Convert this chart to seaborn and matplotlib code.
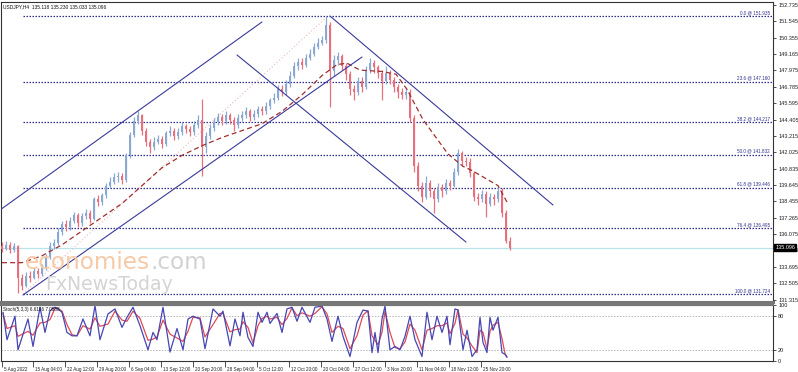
import matplotlib
matplotlib.use("Agg")
import matplotlib.pyplot as plt
import matplotlib.transforms as mtransforms
from matplotlib import font_manager
import seaborn as sns
import pandas as pd

# ---------------- data ----------------
title_text = "USDJPY,H4  135.118 135.230 135.033 135.096"
stoch_title = "Stoch(5,3,3) 6.6196 7.0588"
current_price = 135.096

bar_step = 4
first_open = 135.2
closes = [135.0, 135.3, 134.9, 135.2, 132.9, 132.3, 133.0, 132.9, 133.4, 133.2,
          133.6, 134.4, 135.2, 135.4, 136.2, 136.8, 136.6, 137.0, 137.5, 136.9,
          137.4, 137.6, 137.2, 138.6, 138.4, 138.9, 139.6, 139.9, 140.2, 140.3,
          140.0, 141.8, 143.3, 144.3, 144.7, 143.6, 142.8, 142.4, 142.8, 143.0,
          142.6, 143.4, 143.6, 143.2, 143.5, 143.9, 143.7, 143.5, 144.0, 144.4,
          142.4, 143.2, 143.8, 144.2, 144.6, 144.3, 144.7, 144.4, 144.0, 144.5,
          144.7, 145.0, 144.6, 144.8, 145.2, 145.0, 145.4, 145.8, 146.0, 146.6,
          146.4, 147.0, 147.6, 148.3, 148.6, 148.4, 148.9, 149.2, 149.7, 150.0,
          150.2, 151.3, 147.9, 148.7, 149.0, 148.3, 147.7, 146.6, 146.4, 147.2,
          146.8, 148.0, 148.5, 148.2, 147.8, 147.2, 147.8, 147.3, 146.8, 146.4,
          146.2, 146.4, 144.5, 141.0, 139.6, 138.8, 139.8, 139.2, 138.6, 139.5,
          139.2, 139.8, 139.6, 140.6, 142.0, 141.4, 141.3, 140.5, 138.8, 138.6,
          139.0, 138.3, 138.8, 138.6, 139.2, 137.6, 135.6, 135.1]
highs = [135.5, 135.6, 135.5, 135.4, 135.3, 133.2, 133.3, 133.4, 133.7, 133.6,
         133.9, 134.6, 135.5, 135.7, 136.5, 137.0, 137.1, 137.3, 137.7, 137.6,
         137.6, 137.9, 137.8, 138.8, 138.9, 139.1, 139.8, 140.2, 140.5, 140.6,
         140.5, 142.0, 143.5, 144.6, 144.99, 144.8, 143.8, 143.0, 143.1, 143.3,
         143.2, 143.6, 143.9, 143.8, 143.8, 144.2, 144.1, 143.9, 144.3, 144.7,
         145.9, 143.5, 144.1, 144.5, 144.9, 144.8, 145.0, 144.9, 144.6, 144.8,
         145.0, 145.3, 145.2, 145.1, 145.4, 145.4, 145.7, 146.0, 146.3, 146.9,
         146.9, 147.3, 147.9, 148.6, 148.9, 148.9, 149.2, 149.5, 150.0, 150.3,
         150.5, 151.95, 151.5, 149.1, 149.3, 149.2, 148.5, 147.9, 146.9, 147.5,
         147.5, 148.3, 148.9, 148.7, 148.4, 148.0, 148.3, 148.0, 147.5, 147.0,
         146.7, 146.7, 146.6, 144.7, 141.3, 139.9, 140.3, 140.0, 139.4, 139.8,
         139.7, 140.1, 140.0, 140.9, 142.25, 142.1, 141.7, 141.6, 140.7, 139.1,
         139.3, 139.2, 139.1, 139.0, 139.6, 139.4, 137.8, 135.9]
lows = [134.8, 134.9, 134.7, 134.8, 131.8, 132.0, 132.2, 132.6, 132.8, 132.9,
        133.0, 133.5, 134.3, 135.0, 135.3, 136.0, 136.3, 136.4, 136.9, 136.6,
        136.7, 137.2, 136.9, 137.1, 138.1, 138.2, 138.7, 139.4, 139.7, 139.9,
        139.7, 139.9, 141.6, 143.1, 144.1, 143.3, 142.5, 142.0, 142.2, 142.6,
        142.3, 142.5, 143.2, 142.9, 143.0, 143.3, 143.4, 143.2, 143.3, 143.8,
        140.3, 142.0, 143.0, 143.6, 144.0, 144.0, 144.1, 144.1, 143.6, 143.8,
        144.3, 144.5, 144.3, 144.4, 144.6, 144.7, 144.8, 145.2, 145.6, 145.8,
        146.1, 146.2, 146.8, 147.4, 148.0, 148.1, 148.2, 148.7, 149.0, 149.5,
        149.8, 150.0, 145.3, 147.6, 148.4, 148.0, 147.3, 146.2, 145.8, 146.2,
        146.4, 146.6, 147.8, 147.8, 147.4, 145.8, 147.0, 147.0, 146.4, 146.0,
        145.9, 145.9, 144.2, 140.6, 139.2, 138.4, 138.6, 138.8, 137.6, 138.4,
        138.8, 139.0, 139.3, 139.5, 140.4, 141.1, 141.0, 140.2, 138.5, 138.2,
        138.4, 137.3, 138.1, 138.2, 138.4, 137.3, 135.4, 134.9]

ma_bars = [0, 20, 40, 60, 80, 100, 120, 140, 160, 180, 200, 220, 240, 260, 280,
           300, 320, 335, 345, 358, 380, 394, 405, 421, 446, 461, 470, 496, 505]
ma_values = [134.0, 134.0, 134.5, 135.3, 136.3, 137.3, 138.3, 139.6, 140.9, 141.8,
             142.5, 143.1, 143.6, 144.1, 145.0, 146.2, 147.6, 148.4, 148.5, 148.0,
             147.9, 147.7, 146.6, 144.4, 141.9, 141.0, 140.7, 139.6, 138.4]

stoch_bars = [1, 5, 13, 16, 26, 31, 38, 43, 48, 53,
              56, 60, 65, 70, 75, 81, 88, 93, 98, 106,
              113, 120, 125, 131, 138, 146, 151, 155, 161, 168,
              175, 181, 186, 191, 198, 203, 211, 218, 221, 228,
              233, 238, 241, 246, 251, 256, 260, 265, 268, 275,
              280, 285, 290, 295, 300, 308, 313, 320, 325, 330,
              336, 341, 348, 355, 361, 366, 370, 373, 376, 380,
              383, 388, 393, 398, 403, 408, 413, 420, 425, 430,
              435, 440, 445, 448, 453, 456, 461, 465, 470, 475,
              478, 481, 485, 488, 491, 496, 500, 503, 505]
stoch_main = [87, 38, 80, 20, 75, 26, 96, 51, 90, 96,
              93, 87, 51, 45, 45, 75, 45, 99, 38, 84,
              93, 60, 78, 96, 63, 20, 51, 38, 96, 16,
              58, 20, 75, 80, 75, 22, 93, 80, 89, 27,
              75, 45, 87, 42, 26, 87, 69, 87, 67, 85,
              51, 93, 96, 71, 96, 69, 96, 98, 75, 35,
              80, 44, 8, 69, 91, 89, 15, 51, 15, 75,
              98, 20, 26, 20, 44, 80, 38, 8, 87, 38,
              80, 51, 80, 29, 93, 91, 20, 55, 8, 20,
              78, 33, 15, 78, 55, 78, 15, 12, 6.6]
stoch_signal = [85, 58, 63, 44, 53, 46, 68, 69, 74, 94,
                94, 89, 65, 47, 45, 63, 57, 77, 62, 66,
                89, 73, 71, 89, 76, 37, 39, 43, 73, 48,
                41, 35, 53, 78, 77, 43, 65, 85, 85, 52,
                56, 57, 70, 60, 32, 63, 76, 80, 75, 78,
                65, 76, 95, 81, 86, 80, 85, 97, 84, 51,
                62, 58, 22, 45, 82, 90, 45, 37, 29, 51,
                89, 51, 24, 22, 34, 66, 55, 20, 55, 58,
                63, 63, 68, 49, 67, 92, 48, 41, 27, 15,
                55, 51, 22, 53, 64, 69, 40, 13, 7.06]

fib_levels = [0.0, 23.6, 38.2, 50.0, 61.8, 76.4, 100.0]
fib_prices = [151.935, 147.160, 144.217, 141.832, 139.446, 136.495, 131.724]
fib_start_bar = 21
fib_diag_bars = [21, 326]
fib_diag_prices = [131.724, 151.935]

rise_upper_bars = [-2, 260]
rise_upper_prices = [137.83, 151.50]
rise_lower_bars = [21, 360]
rise_lower_prices = [131.65, 148.95]
fall_upper_bars = [328, 551]
fall_upper_prices = [151.93, 138.19]
fall_lower_bars = [235, 464]
fall_lower_prices = [149.10, 135.50]

price_ticks = [152.735, 151.545, 150.355, 149.165, 147.975, 146.785, 145.595,
               144.405, 143.215, 142.025, 140.835, 139.645, 138.455, 137.265,
               136.075, 134.885, 133.695, 132.505, 131.315]
stoch_ticks = [100, 80, 20, 0]
stoch_levels = [80, 20]
time_tick_bars = [0, 31, 63, 95, 127, 159, 191, 223, 255, 287, 319, 351, 383, 415, 447, 479]
time_tick_labels = ["5 Aug 2022", "15 Aug 04:00", "22 Aug 12:00", "29 Aug 20:00",
                    "6 Sep 04:00", "13 Sep 12:00", "20 Sep 20:00", "28 Sep 04:00",
                    "5 Oct 12:00", "12 Oct 20:00", "20 Oct 04:00", "27 Oct 12:00",
                    "3 Nov 20:00", "11 Nov 04:00", "18 Nov 12:00", "25 Nov 20:00"]

# ---------------- styling ----------------
sns.set_theme(style="white")
plt.rcParams['font.family'] = ['DejaVu Sans']
names = {f.name for f in font_manager.fontManager.ttflist}
SMALL = ['Liberation Sans Narrow', 'DejaVu Sans'] if 'Liberation Sans Narrow' in names \
    else ['Liberation Sans', 'DejaVu Sans']

UP = '#8aa9d2'
DOWN = '#e8707c'
NAVY = '#2e2e8c'
FRAME = '#333333'

W, H = 798, 372
fig = plt.figure(figsize=(W / 100, H / 100), dpi=100)
fig.patch.set_facecolor('white')
renderer = fig.canvas.get_renderer()


def fit_size(text, target_px, family=SMALL, ref=10.0):
    t = fig.text(0, 0, text, fontsize=ref, family=family)
    w = t.get_window_extent(renderer).width
    t.remove()
    return ref * target_px / w


FS_Y = fit_size("152.735", 20)
FS_X = fit_size("15 Aug 04:00", 27)
FS_T = fit_size(title_text, 104)
FS_F = fit_size("61.8 @ 139.446", 33)
FS_S = fit_size(stoch_title, 56)
FS_WM1 = fit_size("economies", 125, family=['DejaVu Sans'])
FS_WM2 = fit_size("FxNewsToday", 128, family=['DejaVu Sans'])


def box(l, t, r, b):
    return [l / W, 1 - b / H, (r - l) / W, (b - t) / H]


ax = fig.add_axes(box(1, 2, 773, 302))
ax2 = fig.add_axes(box(1, 305, 773, 361))
XMIN, XMAX = -1, 771

df = pd.DataFrame({
    'bar': [i * bar_step for i in range(len(closes))],
    'close': closes, 'high': highs, 'low': lows,
})
df['open'] = [first_open] + closes[:-1]
df['up'] = df['close'] >= df['open']
colors = [UP if u else DOWN for u in df['up']]

# candles
ax.vlines(df['bar'], df['low'], df['high'], colors=colors, lw=0.9, zorder=3)
body_bottom = df[['open', 'close']].min(axis=1)
body_h = (df['close'] - df['open']).abs().clip(lower=0.04)
ax.bar(df['bar'], body_h, bottom=body_bottom, width=2.2, color=colors,
       linewidth=0, zorder=3)

# moving average
sns.lineplot(x=ma_bars, y=ma_values, ax=ax, color='#a0302e', lw=0.9,
             linestyle=(0, (4, 2.5)), zorder=4)

# current price line
ax.axhline(current_price, color='#b9e3ea', lw=0.9, zorder=1)

# fibonacci
ax.hlines(fib_prices, fib_start_bar, XMAX, colors=NAVY, linestyles=(0, (1.2, 1.2)),
          lw=0.9, zorder=2)
for lv, pr in zip(fib_levels, fib_prices):
    ax.annotate(f"{lv:.1f} @ {pr:.3f}", xy=(768, pr), xytext=(0, 0.8),
                textcoords='offset points', ha='right', va='bottom',
                fontsize=FS_F, color=NAVY, family=SMALL, zorder=6)
sns.lineplot(x=fib_diag_bars, y=fib_diag_prices, ax=ax, color='#eab8b8', lw=0.8,
             linestyle=(0, (1, 2)), zorder=1)

# channels
for bx, py in [(rise_upper_bars, rise_upper_prices), (rise_lower_bars, rise_lower_prices),
               (fall_upper_bars, fall_upper_prices), (fall_lower_bars, fall_lower_prices)]:
    sns.lineplot(x=bx, y=py, ax=ax, color='#3a3a9a', lw=0.8, zorder=5)

# watermark
wm1 = fig.text(25 / W, 1 - 269 / H, "economies", fontsize=FS_WM1, color='#f7c9a6',
               ha='left', va='baseline', zorder=0)
wm1_right = wm1.get_window_extent(renderer).x1
fig.text(wm1_right / W, 1 - 269 / H, ".com", fontsize=FS_WM1, color='#d2d2d2',
         ha='left', va='baseline', zorder=0)
fig.text(45 / W, 1 - 290 / H, "FxNewsToday", fontsize=FS_WM2, color='#d4d4d4',
         ha='left', va='baseline', zorder=0)

ax.set_xlim(XMIN, XMAX)
ax.set_ylim(131.14, 152.95)
ax.set_xticks([])
ax.yaxis.tick_right()
ax.set_yticks(price_ticks)
ax.set_yticklabels([f"{v:.3f}" for v in price_ticks], fontsize=FS_Y, family=SMALL,
                   color='#222222')
ax.tick_params(axis='y', direction='out', length=2.5, width=0.6, pad=1.2,
               color=FRAME, right=True, left=False)
ax.set_xlabel('')
ax.set_ylabel('')
ax.set_facecolor('none')
for s in ax.spines.values():
    s.set_color(FRAME)
    s.set_linewidth(0.8)
ax.spines['bottom'].set_color('#777777')
ax.spines['bottom'].set_linewidth(2.2)

ax.text(0.003, 0.993, title_text, transform=ax.transAxes, fontsize=FS_T, family=SMALL,
        color='#111111', ha='left', va='top')

trans = mtransforms.blended_transform_factory(ax.transAxes, ax.transData)
ax.text(1.003, current_price, f"{current_price:.3f}", transform=trans, fontsize=FS_Y,
        family=SMALL, color='white', ha='left', va='center', clip_on=False, zorder=10,
        bbox=dict(boxstyle='square,pad=0.2', fc='black', ec='black'))

# stochastic panel
sns.lineplot(x=stoch_bars, y=stoch_signal, ax=ax2, color='#e04a55', lw=0.9)
sns.lineplot(x=stoch_bars, y=stoch_main, ax=ax2, color='#4646b4', lw=0.9)
for lv in stoch_levels:
    ax2.axhline(lv, color='#b5b5b5', lw=0.7, linestyle=(0, (1.5, 1.5)), zorder=0)
ax2.set_xlim(XMIN, XMAX)
ax2.set_ylim(0, 100)
ax2.yaxis.tick_right()
ax2.set_yticks(stoch_ticks)
ax2.set_yticklabels([str(v) for v in stoch_ticks], fontsize=FS_Y, family=SMALL,
                    color='#222222')
ax2.tick_params(axis='y', direction='out', length=2.5, width=0.6, pad=1.2,
                color=FRAME, right=True, left=False)
ax2.set_xticks(time_tick_bars)
ax2.set_xticklabels(time_tick_labels, fontsize=FS_X, family=SMALL, color='#222222')
ax2.tick_params(axis='x', direction='out', length=4, width=0.6, pad=0.5,
                color=FRAME, bottom=True)
offset = mtransforms.ScaledTranslation(2 / 100, 0, fig.dpi_scale_trans)
for lbl in ax2.get_xticklabels():
    lbl.set_ha('left')
    lbl.set_transform(lbl.get_transform() + offset)
ax2.set_xlabel('')
ax2.set_ylabel('')
for s in ax2.spines.values():
    s.set_color(FRAME)
    s.set_linewidth(0.8)
ax2.spines['top'].set_color('#777777')
ax2.spines['top'].set_linewidth(1.6)
ax2.text(0.003, 0.97, stoch_title, transform=ax2.transAxes, fontsize=FS_S, family=SMALL,
         color='#111111', ha='left', va='top')

fig.savefig('out.png', dpi=100, facecolor='white')
